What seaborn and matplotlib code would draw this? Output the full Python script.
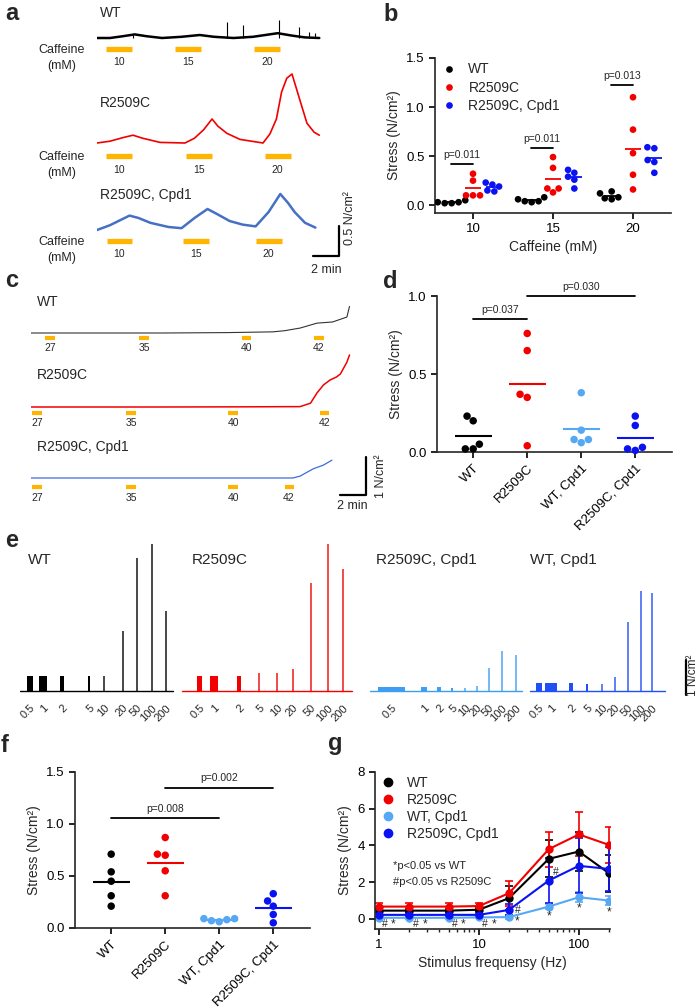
import matplotlib
matplotlib.use("Agg")
import matplotlib.pyplot as plt
from matplotlib.lines import Line2D
import numpy as np
import pandas as pd
import seaborn as sns

####################################################################################
## DATA
####################################################################################
groups3 = ["WT", "R2509C", "R2509C, Cpd1"]
groups4 = ["WT", "R2509C", "WT, Cpd1", "R2509C, Cpd1"]
colors = {"WT": "#000000", "R2509C": "#f20000", "WT, Cpd1": "#56a8f5", "R2509C, Cpd1": "#0b12f2"}
orange = "#ffb400"

# a: caffeine contractures, time (min) vs stress (N/cm2)
a_doses = ["10", "15", "20"]
a_wt_t = [0, 1.0, 2.0, 2.9, 3.8, 5.0, 6.5, 7.9, 9.0, 10.5, 12.0, 13.9, 15.0, 16.0, 17.1]
a_wt_s = [0, 0.0, 0.03, 0.06, 0.03, 0.0, 0.02, 0.05, 0.02, 0.0, 0.02, 0.08, 0.04, 0.01, 0.0]
a_wt_spike_t = [2.8, 10.0, 11.2, 14.0, 15.5, 16.3, 16.8]
a_wt_spike_s = [0.06, 0.26, 0.22, 0.30, 0.19, 0.10, 0.08]
a_r_t = [0, 1.0, 2.0, 2.77, 3.5, 4.85, 6.77, 7.5, 8.2, 8.85, 9.3, 10.0, 11.0, 12.77,
         13.3, 13.8, 14.2, 14.6, 15.0, 15.6, 16.15, 16.7, 17.1]
a_r_s = [0, 0.03, 0.09, 0.13, 0.08, 0.01, 0.0, 0.08, 0.22, 0.40, 0.28, 0.16, 0.06, 0.0,
         0.15, 0.40, 0.85, 1.08, 1.15, 0.72, 0.33, 0.18, 0.13]
a_c_t = [0, 1.0, 2.5, 3.2, 4.1, 5.5, 6.5, 7.5, 8.5, 9.2, 10.2, 11.2, 12.2, 13.2, 14.1, 14.7, 15.2, 16.0, 16.8]
a_c_s = [0.0, 0.08, 0.24, 0.2, 0.12, 0.05, 0.03, 0.2, 0.35, 0.27, 0.15, 0.09, 0.06, 0.3, 0.6, 0.45, 0.3, 0.12, 0.04]
a_wt_on, a_wt_off = [0.7, 6.0, 12.1], [2.7, 8.0, 14.1]
a_r_on, a_r_off = [0.7, 6.85, 12.9], [2.7, 8.85, 14.9]
a_c_on, a_c_off = [0.75, 6.6, 12.2], [2.7, 8.6, 14.2]

# c: heat-induced contractures, time (min) vs stress (N/cm2)
c_temps = ["27", "35", "40", "42"]
c_wt_t = [0, 5, 10, 15, 18.6, 19.5, 20.7, 22.0, 23.2, 24.3, 24.5]
c_wt_s = [0, 0, 0, 0.01, 0.03, 0.06, 0.13, 0.26, 0.29, 0.42, 0.7]
c_r_t = [0, 10, 17, 20.7, 21.5, 22.0, 22.5, 23.0, 23.5, 23.8, 24.3, 24.5]
c_r_s = [0, 0, 0.005, 0.01, 0.1, 0.37, 0.58, 0.71, 0.79, 0.87, 1.18, 1.37]
c_c_t = [0, 10, 20.15, 20.7, 21.7, 22.5, 23.15]
c_c_s = [0, 0, 0.0, 0.05, 0.24, 0.34, 0.47]
c_wt_mid = [1.46, 8.69, 16.6, 22.15]
c_r_mid = [0.46, 7.69, 15.54, 22.6]
c_c_mid = [0.46, 7.69, 15.54, 19.85]

# e: force-frequency traces, stimulus frequency (Hz) at each train
e_labels = ["0.5", "1", "2", "5", "10", "20", "50", "100", "200"]
e_wt_x = [1.0, 2.3, 4.2, 6.9, 8.4, 10.3, 11.7, 13.2, 14.6]
e_wt_w = [0.6, 0.8, 0.4, 0.2, 0.12, 0.12, 0.12, 0.12, 0.15]
e_wt_h = [0.43, 0.43, 0.43, 0.43, 0.43, 1.7, 3.8, 4.2, 2.3]
e_r_x = [17.95, 19.4, 21.9, 23.9, 25.7, 27.3, 29.1, 30.8, 32.3]
e_r_w = [0.5, 0.8, 0.4, 0.15, 0.12, 0.12, 0.12, 0.12, 0.12]
e_r_h = [0.43, 0.43, 0.43, 0.5, 0.5, 0.63, 3.1, 4.2, 3.5]
e_lc_x = [37.15, 40.4, 41.9, 43.2, 44.5, 45.7, 46.9, 48.2, 49.6]
e_lc_w = [2.7, 0.6, 0.4, 0.2, 0.12, 0.12, 0.12, 0.12, 0.12]
e_lc_h = [0.1, 0.1, 0.1, 0.08, 0.08, 0.14, 0.66, 1.14, 1.03]
e_bc_x = [51.9, 53.1, 55.1, 56.7, 58.2, 59.5, 60.8, 62.1, 63.2]
e_bc_w = [0.6, 1.2, 0.4, 0.2, 0.15, 0.12, 0.12, 0.12, 0.12]
e_bc_h = [0.23, 0.23, 0.23, 0.2, 0.2, 0.4, 1.97, 2.86, 2.8]
e_titles = ["WT", "R2509C", "R2509C, Cpd1", "WT, Cpd1"]

# b: caffeine dose response
b_caffeine = ["10", "15", "20"]
b_wt = [[0.05, 0.03, 0.03, 0.02, 0.02], [0.08, 0.06, 0.04, 0.04, 0.03], [0.14, 0.12, 0.08, 0.07, 0.06]]
b_r = [[0.32, 0.25, 0.10, 0.10, 0.10], [0.49, 0.38, 0.17, 0.17, 0.13], [1.10, 0.77, 0.53, 0.31, 0.16]]
b_cpd = [[0.23, 0.21, 0.19, 0.15, 0.14], [0.36, 0.33, 0.29, 0.26, 0.17], [0.59, 0.58, 0.46, 0.44, 0.33]]
b_p = ["p=0.011", "p=0.011", "p=0.013"]
b_p_y = [0.42, 0.58, 1.22]

# d: heat contracture peak stress
d_vals = {"WT": [0.23, 0.20, 0.05, 0.02, 0.02],
          "R2509C": [0.76, 0.65, 0.37, 0.35, 0.04],
          "WT, Cpd1": [0.38, 0.14, 0.06, 0.08, 0.08],
          "R2509C, Cpd1": [0.23, 0.17, 0.01, 0.03, 0.02]}
d_sig = [(0, 1, 0.85, "p=0.037"), (1, 3, 1.0, "p=0.030")]

# f: stress at 1 Hz
f_vals = {"WT": [0.71, 0.54, 0.45, 0.31, 0.21],
          "R2509C": [0.87, 0.70, 0.71, 0.55, 0.31],
          "WT, Cpd1": [0.07, 0.09, 0.09, 0.08, 0.06],
          "R2509C, Cpd1": [0.33, 0.26, 0.21, 0.13, 0.05]}
f_sig = [(0, 2, 1.06, "p=0.008"), (1, 3, 1.35, "p=0.002")]

# g: force-frequency, mean +- SEM
g_freq = [1, 2, 5, 10, 20, 50, 100, 200]
g_mean = {"WT": [0.45, 0.45, 0.45, 0.5, 1.13, 3.27, 3.67, 2.49],
          "R2509C": [0.67, 0.67, 0.67, 0.7, 1.4, 3.8, 4.6, 4.03],
          "WT, Cpd1": [0.06, 0.06, 0.06, 0.08, 0.1, 0.67, 1.18, 1.0],
          "R2509C, Cpd1": [0.22, 0.22, 0.22, 0.22, 0.49, 2.09, 2.89, 2.72]}
g_sem = {"WT": [0.08, 0.08, 0.08, 0.08, 0.67, 1.0, 1.05, 1.0],
         "R2509C": [0.18, 0.18, 0.18, 0.18, 0.69, 0.95, 1.2, 1.0],
         "WT, Cpd1": [0.05, 0.05, 0.05, 0.05, 0.1, 0.15, 0.27, 0.25],
         "R2509C, Cpd1": [0.08, 0.08, 0.08, 0.08, 0.3, 1.2, 1.5, 1.2]}
g_hash_x = [1.15, 2.34, 5.75, 11.5, 24.5, 58.9]
g_hash_y = [-0.3, -0.3, -0.3, -0.3, 0.49, 2.56]
g_star_x = [1.38, 2.88, 6.9, 14.1, 24, 50, 100, 200]
g_star_y = [-0.3, -0.3, -0.3, -0.3, -0.16, 0.16, 0.55, 0.33]

####################################################################################
## STYLE / LAYOUT HELPERS
####################################################################################
sns.set_theme(style="ticks")
plt.rcParams['font.family'] = ['Liberation Sans', 'DejaVu Sans']
plt.rcParams['axes.linewidth'] = 1.2
plt.rcParams['xtick.major.width'] = 1.2
plt.rcParams['ytick.major.width'] = 1.2
plt.rcParams['xtick.labelsize'] = 9.5
plt.rcParams['ytick.labelsize'] = 9.5
plt.rcParams['xtick.major.size'] = 4
plt.rcParams['ytick.major.size'] = 4

W, H = 700, 1007
fig = plt.figure(figsize=(W / 100, H / 100), dpi=100)


def add_ax(left, top, right, bottom):
    return fig.add_axes([left / W, 1 - bottom / H, (right - left) / W, (bottom - top) / H])


def ftext(x, y, s, **kw):
    fig.text(x / W, 1 - y / H, s, **kw)


def trace_ax(x0, base, ppm, ppu, t1, lo, hi):
    # x0: pixel where t=0, base: pixel row of zero stress
    ax = add_ax(x0, base - hi * ppu, x0 + t1 * ppm, base - lo * ppu)
    ax.set_xlim(0, t1)
    ax.set_ylim(lo, hi)
    ax.axis("off")
    return ax


def style_axes(ax):
    sns.despine(ax=ax)
    ax.set_facecolor("none")
    ax.tick_params(direction="out", colors="black")


def sig_bar(ax, x1, x2, y, txt):
    ax.plot([x1, x2], [y, y], color="black", lw=1.3, clip_on=False)
    ax.annotate(txt, xy=((x1 + x2) / 2, y), xytext=(0, 3), textcoords="offset points",
                ha="center", va="bottom", fontsize=7.5, annotation_clip=False)


for lab, x, y in [("a", 5, 20), ("b", 383, 21), ("c", 5, 287), ("d", 383, 288),
                  ("e", 5, 547), ("f", 1, 752), ("g", 328, 750)]:
    ftext(x, y, lab, fontsize=17, fontweight="bold", va="baseline")

####################################################################################
## a
####################################################################################
rows_a = [("WT", 38, 49, 62, a_wt_t, a_wt_s, a_wt_on, a_wt_off, "black", 1.8, 13),
          ("R2509C", 143, 156, 170, a_r_t, a_r_s, a_r_on, a_r_off, colors["R2509C"], 1.2, 103),
          ("R2509C, Cpd1", 230, 241, 254, a_c_t, a_c_s, a_c_on, a_c_off, "#4670c4", 1.8, 195)]
ppu_a = 60
for name, base, bar_px, num_px, t, s, on, off, col, lw, lab_y in rows_a:
    ax = trace_ax(97, base, 13, ppu_a, 19, -0.5, 1.25)
    ax.plot(t, s, color=col, lw=lw, solid_joinstyle="round")
    if name == "WT":
        ax.vlines(a_wt_spike_t, 0, a_wt_spike_s, color="black", lw=0.8)
    ybar = -(bar_px - base) / ppu_a
    ax.hlines([ybar] * len(on), on, off, color=orange, lw=3.8)
    for o1, o2, d in zip(on, off, a_doses):
        ax.text((o1 + o2) / 2, -(num_px - base) / ppu_a, d, ha="center", va="center", fontsize=7.5)
    ftext(100, lab_y, name, fontsize=10, va="center")
    ftext(62, bar_px + 9, "Caffeine\n(mM)", fontsize=9, ha="center", va="center", linespacing=1.35)
    if name == "R2509C, Cpd1":
        # scale bar 2 min / 0.5 N/cm2
        ys = -(256 - base) / ppu_a
        ts = (339 - 97) / 13
        ax.plot([ts - 2, ts, ts], [ys, ys, ys + 0.5], color="black", lw=1.6, clip_on=False)
ftext(326, 270, "2 min", fontsize=9, ha="center", va="center")
ftext(350, 218, "0.5 N/cm²", fontsize=9, ha="center", va="center", rotation=90)

####################################################################################
## c
####################################################################################
rows_c = [("WT", 333, 338, 348, c_wt_t, c_wt_s, c_wt_mid, "#333333", 0.8, 302),
          ("R2509C", 407, 413, 423, c_r_t, c_r_s, c_r_mid, colors["R2509C"], 1.1, 375),
          ("R2509C, Cpd1", 478, 487, 498, c_c_t, c_c_s, c_c_mid, "#3a6be0", 0.9, 447)]
ppu_c = 38
for name, base, bar_px, num_px, t, s, mids, col, lw, lab_y in rows_c:
    ax = trace_ax(31, base, 13, ppu_c, 26, -0.6, 1.5)
    ax.plot(t, s, color=col, lw=lw)
    ybar = -(bar_px - base) / ppu_c
    ax.hlines([ybar] * len(mids), np.array(mids) - 0.35, np.array(mids) + 0.35, color=orange, lw=3.0)
    for m, temp in zip(mids, c_temps):
        ax.text(m, -(num_px - base) / ppu_c, temp, ha="center", va="center", fontsize=7.5)
    ftext(37, lab_y, name, fontsize=10, va="center")
    if name == "R2509C, Cpd1":
        ys = -(495 - base) / ppu_c
        ts = (366 - 31) / 13
        ax.plot([ts - 2, ts, ts], [ys, ys, ys + 1.0], color="black", lw=1.6, clip_on=False)
ftext(352, 506, "2 min", fontsize=9, ha="center", va="center")
ftext(381, 476, "1 N/cm²", fontsize=9, ha="center", va="center", rotation=90)

####################################################################################
## e
####################################################################################
ax_e = add_ax(20, 535, 680, 700)
ax_e.set_xlim(0, 66)
ax_e.set_ylim(-0.26, 4.46)
e_groups = [(e_wt_x, e_wt_w, e_wt_h, "black", 0.0, 15.3),
            (e_r_x, e_r_w, e_r_h, colors["R2509C"], 16.2, 33.2),
            (e_lc_x, e_lc_w, e_lc_h, "#3d9df0", 35.0, 50.2),
            (e_bc_x, e_bc_w, e_bc_h, "#1f4ff5", 51.0, 64.5)]
tick_pos, tick_lab = [], []
for xs, ws, hs, col, x_start, x_end in e_groups:
    xs, ws, hs = np.array(xs), np.array(ws), np.array(hs)
    thin = ws <= 0.15
    ax_e.bar(xs[~thin], hs[~thin], width=ws[~thin], color=col, linewidth=0)
    ax_e.bar(xs[thin], hs[thin], width=ws[thin], color=col, linewidth=0, alpha=0.7)
    ax_e.plot([x_start, x_end], [0, 0], color=col, lw=1.0)
    tick_pos += list(xs)
    tick_lab += e_labels
ax_e.plot([66.6, 66.6], [-0.11, 0.89], color="black", lw=1.6, clip_on=False)
ax_e.set_xticks(tick_pos)
ax_e.set_xticklabels(tick_lab, rotation=45, ha="right", rotation_mode="anchor", fontsize=8)
ax_e.tick_params(axis="x", length=0, pad=2)
ax_e.set_yticks([])
for sp in ax_e.spines.values():
    sp.set_visible(False)
ax_e.set_facecolor("none")
for title, x in zip(e_titles, [28, 192, 376, 530]):
    ftext(x, 560, title, fontsize=11, va="center")
ftext(693, 675, "1 N/cm²", fontsize=8.5, ha="center", va="center", rotation=90)

####################################################################################
## b
####################################################################################
rows = []
for i, dose in enumerate(b_caffeine):
    for g, arr in zip(groups3, [b_wt, b_r, b_cpd]):
        for v in arr[i]:
            rows.append((dose, g, v))
df_b = pd.DataFrame(rows, columns=["caffeine", "group", "stress"])

ax_b = add_ax(435, 58, 671, 213)
sns.swarmplot(data=df_b, x="caffeine", y="stress", hue="group", order=b_caffeine,
              hue_order=groups3, palette=colors, dodge=True, size=4.8, ax=ax_b)
means_b = df_b.groupby(["caffeine", "group"])["stress"].mean()
offs = [-0.267, 0.0, 0.267]
for i, dose in enumerate(b_caffeine):
    for g, o in zip(groups3, offs):
        ax_b.hlines(means_b[(dose, g)], i + o - 0.1, i + o + 0.1, color=colors[g], lw=1.3, zorder=5)
    sig_bar(ax_b, i - 0.28, i, b_p_y[i], b_p[i])
ax_b.set_xlim(-0.475, 2.475)
ax_b.set_ylim(-0.08, 1.5)
ax_b.set_yticks([0, 0.5, 1.0, 1.5])
ax_b.set_yticklabels(["0.0", "0.5", "1.0", "1.5"])
ax_b.set_xlabel("Caffeine (mM)", fontsize=10, labelpad=3)
ax_b.set_ylabel("Stress (N/cm²)", fontsize=10, labelpad=4)
style_axes(ax_b)
leg = ax_b.legend(loc="upper left", bbox_to_anchor=(-0.035, 1.025), frameon=False, fontsize=10,
                  handletextpad=0.4, labelspacing=0.3, borderaxespad=0.2, markerscale=1.0)

####################################################################################
## d, f
####################################################################################


def dot_panel(ax, vals, ymax, yticks, sig):
    rows = [(g, v) for g in groups4 for v in vals[g]]
    df = pd.DataFrame(rows, columns=["group", "stress"])
    sns.swarmplot(data=df, x="group", y="stress", hue="group", order=groups4, hue_order=groups4,
                  palette=colors, size=5.4, legend=False, ax=ax)
    for c in ax.collections:
        c.set_clip_on(False)
    means = df.groupby("group")["stress"].mean()
    for i, g in enumerate(groups4):
        ax.hlines(means[g], i - 0.34, i + 0.34, color=colors[g], lw=1.5, zorder=5)
    for i1, i2, y, txt in sig:
        sig_bar(ax, i1, i2, y, txt)
    ax.set_xlim(-0.67, 3.68)
    ax.set_ylim(0, ymax)
    ax.set_yticks(yticks)
    ax.set_yticklabels([f"{v:.1f}" for v in yticks])
    ax.set_xticks(range(4))
    ax.set_xticklabels(groups4, rotation=45, ha="right", rotation_mode="anchor", fontsize=9.5)
    ax.set_xlabel("")
    ax.set_ylabel("Stress (N/cm²)", fontsize=10, labelpad=4)
    style_axes(ax)


ax_d = add_ax(437, 296, 672, 452)
dot_panel(ax_d, d_vals, 1.0, [0, 0.5, 1.0], d_sig)

ax_f = add_ax(75, 772, 310, 928)
dot_panel(ax_f, f_vals, 1.5, [0, 0.5, 1.0, 1.5], f_sig)

####################################################################################
## g
####################################################################################
rows = []
for g in groups4:
    for fr, m, e in zip(g_freq, g_mean[g], g_sem[g]):
        rows.append((g, fr, m, e))
df_g = pd.DataFrame(rows, columns=["group", "freq", "stress", "sem"])

ax_g = add_ax(375, 772, 610, 929)
for g in groups4:
    sub = df_g[df_g.group == g]
    ax_g.errorbar(sub.freq, sub.stress, yerr=sub["sem"], fmt="none", ecolor=colors[g],
                  elinewidth=1.2, capsize=3, capthick=1.2)
sns.lineplot(data=df_g, x="freq", y="stress", hue="group", hue_order=groups4, palette=colors,
             marker="o", markersize=6, markeredgewidth=0, linewidth=1.5, legend=False, ax=ax_g)
ax_g.set_xscale("log")
ax_g.set_xlim(0.91, 205)
ax_g.set_ylim(-0.55, 8)
ax_g.set_xticks([1, 10, 100])
ax_g.set_xticklabels(["1", "10", "100"])
ax_g.set_yticks([0, 2, 4, 6, 8])
ax_g.tick_params(axis="x", which="minor", length=2.5, width=1.0)
ax_g.set_xlabel("Stimulus frequensy (Hz)", fontsize=10, labelpad=3)
ax_g.set_ylabel("Stress (N/cm²)", fontsize=10, labelpad=4)
style_axes(ax_g)
for x, y in zip(g_hash_x, g_hash_y):
    ax_g.text(x, y, "#", fontsize=7.5, ha="center", va="center")
for x, y in zip(g_star_x, g_star_y):
    ax_g.text(x, y, "*", fontsize=8.5, ha="center", va="center")
handles = [Line2D([], [], marker="o", ls="", color=colors[g], markersize=6) for g in groups4]
ax_g.legend(handles, groups4, loc="upper left", bbox_to_anchor=(-0.04, 1.03), frameon=False,
            fontsize=10, handletextpad=0.4, labelspacing=0.22, borderaxespad=0.2)
ftext(393, 866, "*p<0.05 vs WT", fontsize=8, va="center")
ftext(393, 882, "#p<0.05 vs R2509C", fontsize=8, va="center")

fig.savefig("out.png", dpi=100)
